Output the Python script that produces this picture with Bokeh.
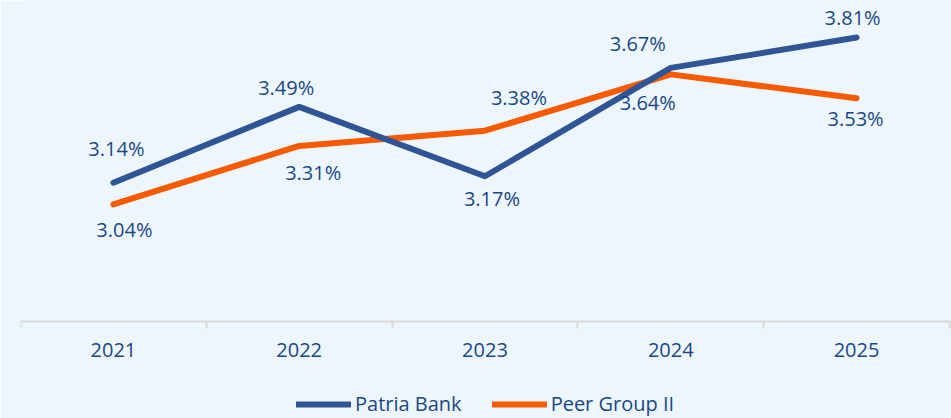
from bokeh.plotting import figure
from bokeh.models import ColumnDataSource, FixedTicker, Legend, LegendItem, LabelSet
from bokeh.core.properties import value
from bokeh.embed import file_html
from bokeh.resources import INLINE

years = ["2021", "2022", "2023", "2024", "2025"]
patria = [3.14, 3.49, 3.17, 3.67, 3.81]
peer = [3.04, 3.31, 3.38, 3.64, 3.53]

# label offsets (style only, screen pixels)
patria_dx = [3, -13, 7, -33, -4]
patria_dy = [34, 19, -22, 24, 20]
peer_dx = [11, 14, 34, -23, -1]
peer_dy = [-25, -27, 33, -28, -20]

BG = "#eef6fd"
TXT = "#1a4885"
BLUE = "#2f5597"
ORANGE = "#f65a02"
FONT = "Open Sans"
AXIS_AT = 2.5

xs = list(range(1, len(years) + 1))

p = figure(frame_width=931, frame_height=418, output_backend="svg", toolbar_location=None,
           x_range=(0.5, 5.511), y_range=(2.052, 3.981),
           min_border_left=20, min_border_right=0, min_border_top=0, min_border_bottom=0)
p.background_fill_color = BG
p.border_fill_color = BG
p.outline_line_color = None
p.grid.visible = False
p.yaxis.visible = False

src_a = ColumnDataSource(dict(x=xs, y=patria, t=[f"{v:.2f}%" for v in patria], dx=patria_dx, dy=patria_dy))
src_b = ColumnDataSource(dict(x=xs, y=peer, t=[f"{v:.2f}%" for v in peer], dx=peer_dx, dy=peer_dy))

r_b = p.line("x", "y", source=src_b, line_color=ORANGE, line_width=6, line_cap="round", line_join="round")
r_a = p.line("x", "y", source=src_a, line_color=BLUE, line_width=6, line_cap="round", line_join="round")

for s in (src_a, src_b):
    lab = LabelSet(x="x", y="y", text="t", source=s, x_offset="dx", y_offset="dy",
                   text_align="center", text_baseline="middle",
                   text_font=value(FONT), text_font_size=value("20px"), text_color=TXT)
    p.add_layout(lab)

ax = p.xaxis[0]
ax.fixed_location = AXIS_AT
ax.ticker = FixedTicker(ticks=xs, minor_ticks=[x - 0.5 for x in xs] + [xs[-1] + 0.5])
ax.major_label_overrides = {x: y for x, y in zip(xs, years)}
ax.major_tick_out = 0
ax.major_tick_in = 0
ax.minor_tick_out = 7
ax.minor_tick_in = 0
ax.minor_tick_line_color = "#d9d9d9"
ax.minor_tick_line_width = 2
ax.axis_line_color = "#d9d9d9"
ax.axis_line_width = 2
ax.major_label_text_font = FONT
ax.major_label_text_font_size = "20px"
ax.major_label_text_color = TXT
ax.major_label_standoff = 15

legend = Legend(items=[LegendItem(label="Patria Bank", renderers=[r_a]),
                       LegendItem(label="Peer Group II", renderers=[r_b])],
                orientation="horizontal", location=(276, 1),
                label_text_font=FONT, label_text_font_size="20px", label_text_color=TXT,
                glyph_width=55, glyph_height=20, label_standoff=4, spacing=30,
                background_fill_alpha=0, border_line_color=None,
                padding=0, margin=0)
p.add_layout(legend)

open("out.html", "w").write(file_html(p, INLINE))
